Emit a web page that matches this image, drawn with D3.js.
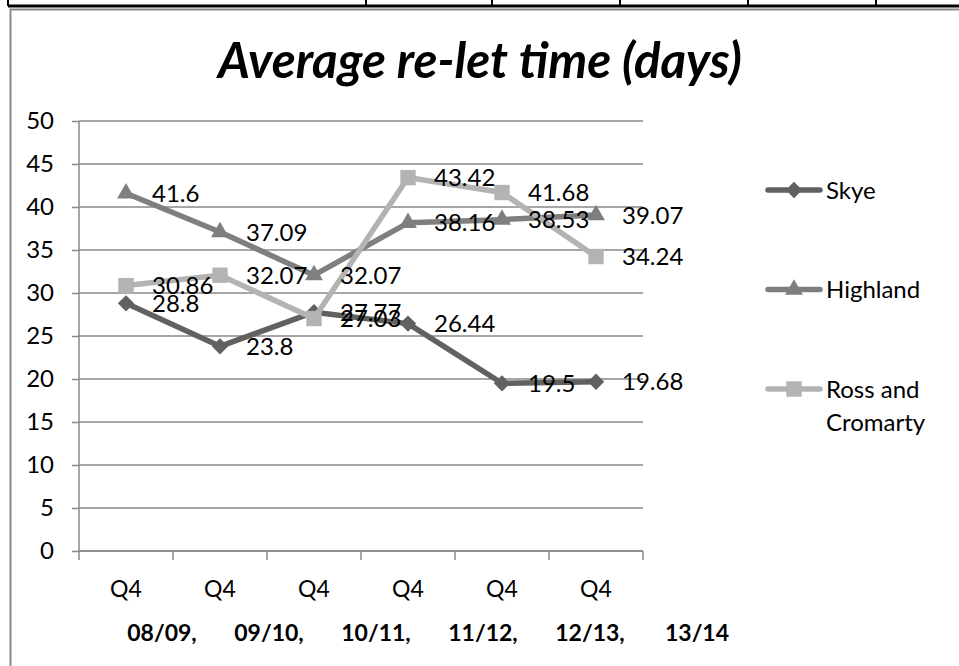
<!DOCTYPE html>
<html><head><meta charset="utf-8">
<script src="https://cdn.jsdelivr.net/npm/d3@7"></script>
<style>
html,body{margin:0;padding:0;background:#fff;}
svg{display:block;}
text{font-family:Lato,"Open Sans",sans-serif;fill:#000;}
</style></head>
<body>
<svg id="c" width="959" height="666"></svg>
<script>
const categories = ["Q4","Q4","Q4","Q4","Q4","Q4"];
const periods = ["08/09,","09/10,","10/11,","11/12,","12/13,","13/14"];
const seriesNames = ["Skye","Highland","Ross and Cromarty"];
const skye = [28.8, 23.8, 27.77, 26.44, 19.5, 19.68];
const highland = [41.6, 37.09, 32.07, 38.16, 38.53, 39.07];
const ross = [30.86, 32.07, 27.03, 43.42, 41.68, 34.24];
const yTicks = [0,5,10,15,20,25,30,35,40,45,50];

const svg = d3.select("#c");
const W = 959, H = 666;

// page table remnants at the top
svg.append("line").attr("x1",8).attr("x2",W).attr("y1",6).attr("y2",6).attr("stroke","#000").attr("stroke-width",3);
[8,366,492,620,748,876].forEach(x=>{
  svg.append("line").attr("x1",x).attr("x2",x).attr("y1",0).attr("y2",6).attr("stroke","#000").attr("stroke-width",2);
});
// chart area border
svg.append("path").attr("d",`M10.5,${H}V9.5H${W}`).attr("fill","none").attr("stroke","#888").attr("stroke-width",2);

const x = d3.scaleBand().domain(d3.range(categories.length)).range([79,643]).padding(0);
const cx = i => x(i) + x.bandwidth()/2;
const y = d3.scaleLinear().domain([0,50]).range([551,121]);

// gridlines
const g = svg.append("g");
g.selectAll("line.grid").data(yTicks).join("line")
  .attr("x1",79).attr("x2",643).attr("y1",d=>y(d)).attr("y2",d=>y(d))
  .attr("stroke","#898989").attr("stroke-width",1.5);

// y axis
const yAxis = d3.axisLeft(y).tickValues(yTicks).tickSize(7).tickPadding(18);
const ya = svg.append("g").attr("transform","translate(79,0)").call(yAxis);
ya.select(".domain").attr("stroke","#898989").attr("stroke-width",1.5).attr("d",`M0,${y(0)}V${y(50)}`);
ya.selectAll(".tick line").attr("stroke","#898989").attr("stroke-width",1.5);
ya.selectAll(".tick text").style("font-family","Lato").style("font-size","24px").attr("fill","#000");

// x axis
const xa = svg.append("g");
xa.append("line").attr("x1",79).attr("x2",643).attr("y1",y(0)).attr("y2",y(0)).attr("stroke","#898989").attr("stroke-width",1.5);
const edges = d3.range(categories.length+1).map(i => i<categories.length ? x(i) : x(i-1)+x.bandwidth());
xa.selectAll("line.t").data(edges).join("line")
  .attr("x1",d=>d).attr("x2",d=>d).attr("y1",y(0)).attr("y2",y(0)+9)
  .attr("stroke","#898989").attr("stroke-width",1.5);
xa.selectAll("text.c").data(categories).join("text")
  .attr("x",(d,i)=>cx(i)).attr("y",597).attr("text-anchor","middle")
  .style("font-size","23px").text(d=>d);
const px = d3.scalePoint().domain(periods).range([162,697]);
xa.selectAll("text.p").data(periods).join("text")
  .attr("x",d=>px(d)).attr("y",641).attr("text-anchor","middle")
  .style("font-size","23px").style("font-weight","bold").text(d=>d);

// series
const series = [
  {name:seriesNames[0], values:skye, color:"#616161", sym:d3.symbolDiamond2, size:170},
  {name:seriesNames[1], values:highland, color:"#7f7f7f", sym:d3.symbolTriangle2, size:230},
  {name:seriesNames[2], values:ross, color:"#b3b3b3", sym:d3.symbolSquare2, size:300}
];
const line = d3.line().x((d,i)=>cx(i)).y(d=>y(d));
series.forEach(s=>{
  svg.append("path").attr("d",line(s.values)).attr("fill","none")
    .attr("stroke",s.color).attr("stroke-width",5.5).attr("stroke-linejoin","round");
  svg.selectAll(null).data(s.values).join("path")
    .attr("transform",(d,i)=>`translate(${cx(i)},${y(d)})`)
    .attr("d",d3.symbol().type(s.sym).size(s.size)()).attr("fill",s.color);
});
series.forEach(s=>{
  svg.selectAll(null).data(s.values).join("text")
    .attr("x",(d,i)=>cx(i)+26).attr("y",d=>y(d)).attr("dy","0.36em")
    .style("font-size","24px").text(d=>d);
});

// title
const title = svg.append("text").attr("x",480).attr("y",78).attr("text-anchor","middle")
  .style("font-size","40px").style("font-weight","bold").style("font-style","italic")
  .text("Average re-let time (days)");
const tl = title.node().getComputedTextLength();
title.style("font-size",(40*524/tl)+"px");

// legend
const ly = d3.scalePoint().domain(seriesNames).range([190,389]);
series.forEach(s=>{
  const yy = ly(s.name);
  svg.append("line").attr("x1",768).attr("x2",820).attr("y1",yy).attr("y2",yy)
    .attr("stroke",s.color).attr("stroke-width",5.5).attr("stroke-linecap","round");
  svg.append("path").attr("transform",`translate(794,${yy})`)
    .attr("d",d3.symbol().type(s.sym).size(s.size)()).attr("fill",s.color);
});
const lt = svg.append("g");
lt.append("text").attr("x",826).attr("y",ly(seriesNames[0])).attr("dy","0.36em").style("font-size","24px").text("Skye");
lt.append("text").attr("x",826).attr("y",ly(seriesNames[1])).attr("dy","0.36em").style("font-size","24px").text("Highland");
const rt = lt.append("text").attr("x",826).attr("y",ly(seriesNames[2])).attr("dy","0.36em").style("font-size","24px");
rt.append("tspan").attr("x",826).text("Ross and");
rt.append("tspan").attr("x",826).attr("dy","1.4em").text("Cromarty");
</script>
</body></html>
